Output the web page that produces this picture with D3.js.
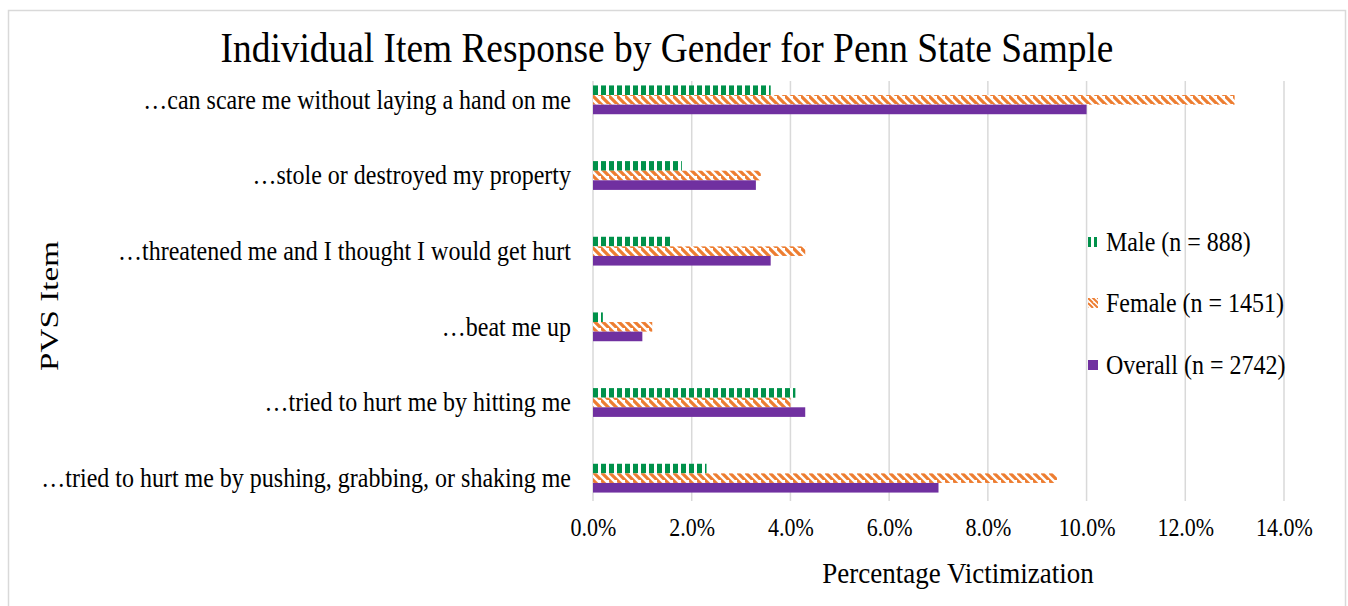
<!DOCTYPE html>
<html>
<head>
<meta charset="utf-8">
<script src="https://cdn.jsdelivr.net/npm/d3@7"></script>
<style>
  html, body { margin: 0; padding: 0; background: #fff; }
  svg { display: block; }
  text { font-family: "Liberation Serif", "Times New Roman", serif; fill: #000; }
</style>
</head>
<body>
<svg id="chart" width="1348" height="606"></svg>
<script>
const title = "Individual Item Response by Gender for Penn State Sample";
const categories = [
  "…can scare me without laying a hand on me",
  "…stole or destroyed my property",
  "…threatened me and I thought I would get hurt",
  "…beat me up",
  "…tried to hurt me by hitting me",
  "…tried to hurt me by pushing, grabbing, or shaking me"
];
const seriesNames = ["Male (n = 888)", "Female (n = 1451)", "Overall (n = 2742)"];
const maleValues    = [0.036, 0.018, 0.016, 0.002, 0.041, 0.023];
const femaleValues  = [0.130, 0.034, 0.043, 0.012, 0.040, 0.094];
const overallValues = [0.100, 0.033, 0.036, 0.010, 0.043, 0.070];
const xTicks = [0, 0.02, 0.04, 0.06, 0.08, 0.10, 0.12, 0.14];
const xTitle = "Percentage Victimization";
const yTitle = "PVS Item";

const svg = d3.select("#chart");
const KT = 1.1, KC = 1.12, KX = 1.18, KL = 1.12, KA = 1.12;

// defs: patterns
const defs = svg.append("defs");
const green = "#00914a", orange = "#ed7d31", purple = "#7030a0";
const pm = defs.append("pattern").attr("id", "pMale").attr("patternUnits", "userSpaceOnUse")
  .attr("width", 8).attr("height", 8).attr("x", 593);
pm.append("rect").attr("width", 8).attr("height", 8).attr("fill", "#fff");
pm.append("rect").attr("x", 0).attr("width", 5).attr("height", 8).attr("fill", green);

const pf = defs.append("pattern").attr("id", "pFemale").attr("patternUnits", "userSpaceOnUse")
  .attr("width", 8).attr("height", 8).attr("x", 593);
pf.append("rect").attr("width", 8).attr("height", 8).attr("fill", "#fff");
pf.append("path").attr("d", "M-2,-2 L10,10 M-6,2 L2,10 M6,-6 L14,2")
  .attr("stroke", orange).attr("stroke-width", 3.2);

const pfL = defs.append("pattern").attr("id", "pFemaleL").attr("patternUnits", "userSpaceOnUse")
  .attr("width", 5).attr("height", 5);
pfL.append("rect").attr("width", 5).attr("height", 5).attr("fill", "#fff");
pfL.append("path").attr("d", "M-1,-1 L6,6 M-3,2 L0,5 M3,-2 L6,1").attr("stroke", orange).attr("stroke-width", 2);

const fills = ["url(#pMale)", "url(#pFemale)", purple];
const series = [maleValues, femaleValues, overallValues];

// border
svg.append("rect").attr("x", 8.5).attr("y", 10.5).attr("width", 1337).attr("height", 605)
  .attr("fill", "none").attr("stroke", "#d9d9d9").attr("stroke-width", 1.5);

// scales
const x = d3.scaleLinear().domain([0, 0.14]).range([593, 1284]);
const y = d3.scaleBand().domain(categories).range([62, 516]);
const barH = 9.6;

// gridlines
svg.append("g").selectAll("line").data(xTicks).join("line")
  .attr("x1", d => x(d)).attr("x2", d => x(d))
  .attr("y1", 81).attr("y2", 501)
  .attr("stroke", "#d9d9d9").attr("stroke-width", 1.5);

// bars
categories.forEach((c, i) => {
  const cy = y(c) + y.bandwidth() / 2;
  series.forEach((vals, s) => {
    svg.append("rect")
      .attr("x", x(0))
      .attr("y", cy - 1.5 * barH + s * barH)
      .attr("width", x(vals[i]) - x(0))
      .attr("height", barH)
      .attr("fill", fills[s]);
  });
});

// x axis tick labels
const xAxis = d3.axisBottom(x).tickValues(xTicks).tickFormat(d3.format(".1%")).tickSize(0).tickPadding(0);
const gx = svg.append("g").attr("transform", "translate(0,536)").call(xAxis);
gx.select(".domain").remove();
gx.selectAll("text").attr("font-size", 22 * KX).attr("font-family", "Liberation Serif").attr("fill", "#000")
  .attr("y", 0).attr("dy", 0).attr("transform", `scale(${1 / KX},1)`);

// y axis labels
const yAxis = d3.axisLeft(y).tickSize(0).tickPadding(0);
const gy = svg.append("g").attr("transform", "translate(571,0)").call(yAxis);
gy.select(".domain").remove();
gy.selectAll("text").attr("font-size", 24 * KC).attr("font-family", "Liberation Serif").attr("fill", "#000")
  .attr("x", 0).attr("dy", "0.33em").attr("transform", `scale(${1 / KC},1)`);

// titles
svg.append("text").attr("transform", `translate(667,62) scale(${1 / KT},1)`).attr("text-anchor", "middle")
  .attr("font-size", 37.4 * KT).text(title);
svg.append("text").attr("transform", `translate(958,583) scale(${1 / KA},1)`).attr("text-anchor", "middle")
  .attr("font-size", 27 * KA).text(xTitle);
svg.append("text").attr("transform", `translate(58,306) rotate(-90) scale(1.3,1)`).attr("text-anchor", "middle")
  .attr("font-size", 25.5).text(yTitle);

// legend
const legendY = [242, 303, 365];
seriesNames.forEach((name, s) => {
  const g = svg.append("g").attr("transform", `translate(1088,${legendY[s]})`);
  if (s === 0) {
    g.append("rect").attr("x", 0).attr("y", -5).attr("width", 3).attr("height", 10).attr("fill", green);
    g.append("rect").attr("x", 6).attr("y", -5).attr("width", 3).attr("height", 10).attr("fill", green);
  } else {
    g.append("rect").attr("x", 0).attr("y", -5).attr("width", 10).attr("height", 10)
      .attr("fill", s === 1 ? "url(#pFemaleL)" : purple);
  }
  g.append("text").attr("transform", `translate(18,0) scale(${1 / KL},1)`).attr("dy", "0.33em")
    .attr("font-size", 24 * KL).text(name);
});
</script>
</body>
</html>
